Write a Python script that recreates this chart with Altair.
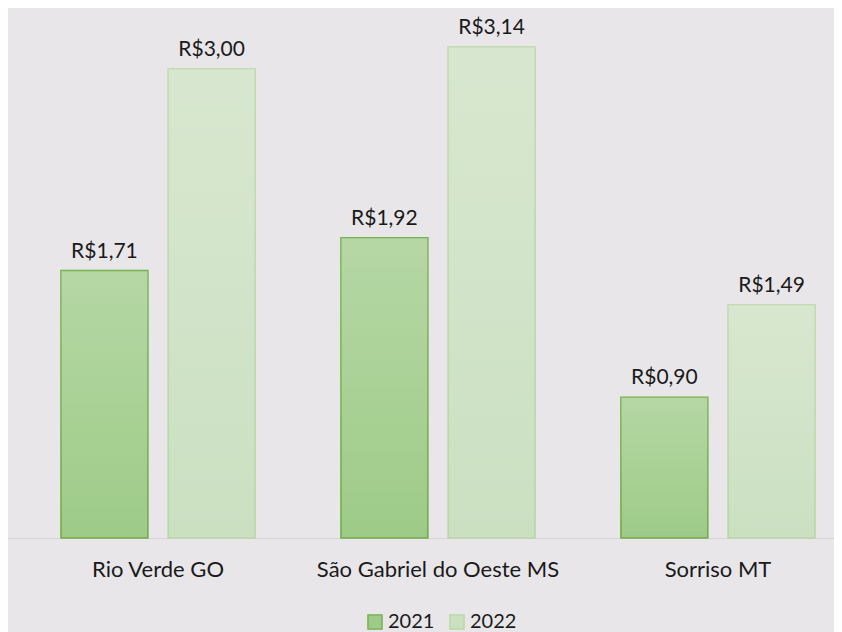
import altair as alt
import pandas as pd

cities = ["Rio Verde GO", "São Gabriel do Oeste MS", "Sorriso MT"]
years = ["2021", "2022"]
values_2021 = [1.71, 1.92, 0.90]
values_2022 = [3.00, 3.14, 1.49]

rows = []
for c, v1, v2 in zip(cities, values_2021, values_2022):
    rows.append({"city": c, "year": "2021", "value": v1})
    rows.append({"city": c, "year": "2022", "value": v2})
df = pd.DataFrame(rows)
df["label"] = df["value"].map(lambda v: "R$" + f"{v:.2f}".replace(".", ","))

Y_MAX = 3.39
FONT = "Lato"
TEXT = "#1a1a1a"

x_enc = alt.X("city:N", sort=cities,
              scale=alt.Scale(paddingInner=0.307, paddingOuter=0.1287, align=0.736),
              axis=alt.Axis(title=None, labelAngle=0, labelFontSize=22, labelFont=FONT,
                            labelColor=TEXT, ticks=False, domainColor="#d6d4d7",
                            domainWidth=1.2, labelPadding=21, labelLimit=0))
xo_enc = alt.XOffset("year:N", sort=years, scale=alt.Scale(paddingInner=0.19, paddingOuter=0))
y_enc = alt.Y("value:Q", scale=alt.Scale(domain=[0, Y_MAX], nice=False), axis=None)

legend = alt.Legend(title=None, orient="none", legendX=357, legendY=604,
                    direction="horizontal", symbolType="square",
                    symbolSize=200, labelFontSize=20, labelFont=FONT,
                    labelColor=TEXT, columnPadding=12,
                    labelOffset=3, symbolStrokeWidth=1.3)

base = alt.Chart(df)

bars = base.mark_bar(strokeWidth=1.6).encode(
    x=x_enc, xOffset=xo_enc, y=y_enc,
    fill=alt.Fill("year:N", sort=years,
                  scale=alt.Scale(domain=years, range=["#9ecb88", "#cbe0c1"]),
                  legend=legend),
    stroke=alt.Stroke("year:N", sort=years,
                      scale=alt.Scale(domain=years, range=["#70ad47", "#b8d6a6"]),
                      legend=legend),
)

grad = alt.Gradient(
    gradient="linear",
    stops=[alt.GradientStop(color="rgba(255,255,255,0.24)", offset=0),
           alt.GradientStop(color="rgba(255,255,255,0)", offset=1)],
    x1=0, x2=0, y1=0, y2=1,
)
overlay = base.mark_bar(color=grad, strokeWidth=0).encode(
    x=x_enc, xOffset=xo_enc, y=y_enc,
)

labels = base.mark_text(baseline="bottom", dy=-9, fontSize=21, font=FONT,
                        color=TEXT).encode(
    x=x_enc, xOffset=xo_enc, y=y_enc, text="label:N",
)

chart = alt.layer(bars, overlay, labels).properties(
    width=826, height=530,
    autosize=alt.AutoSizeParams(type="none"),
    padding={"left": 0, "top": 0, "right": 0, "bottom": 94},
    background="#e8e6e9",
).configure_view(stroke=None)

chart.save("out.html", embed_options={"renderer": "svg", "actions": False})
